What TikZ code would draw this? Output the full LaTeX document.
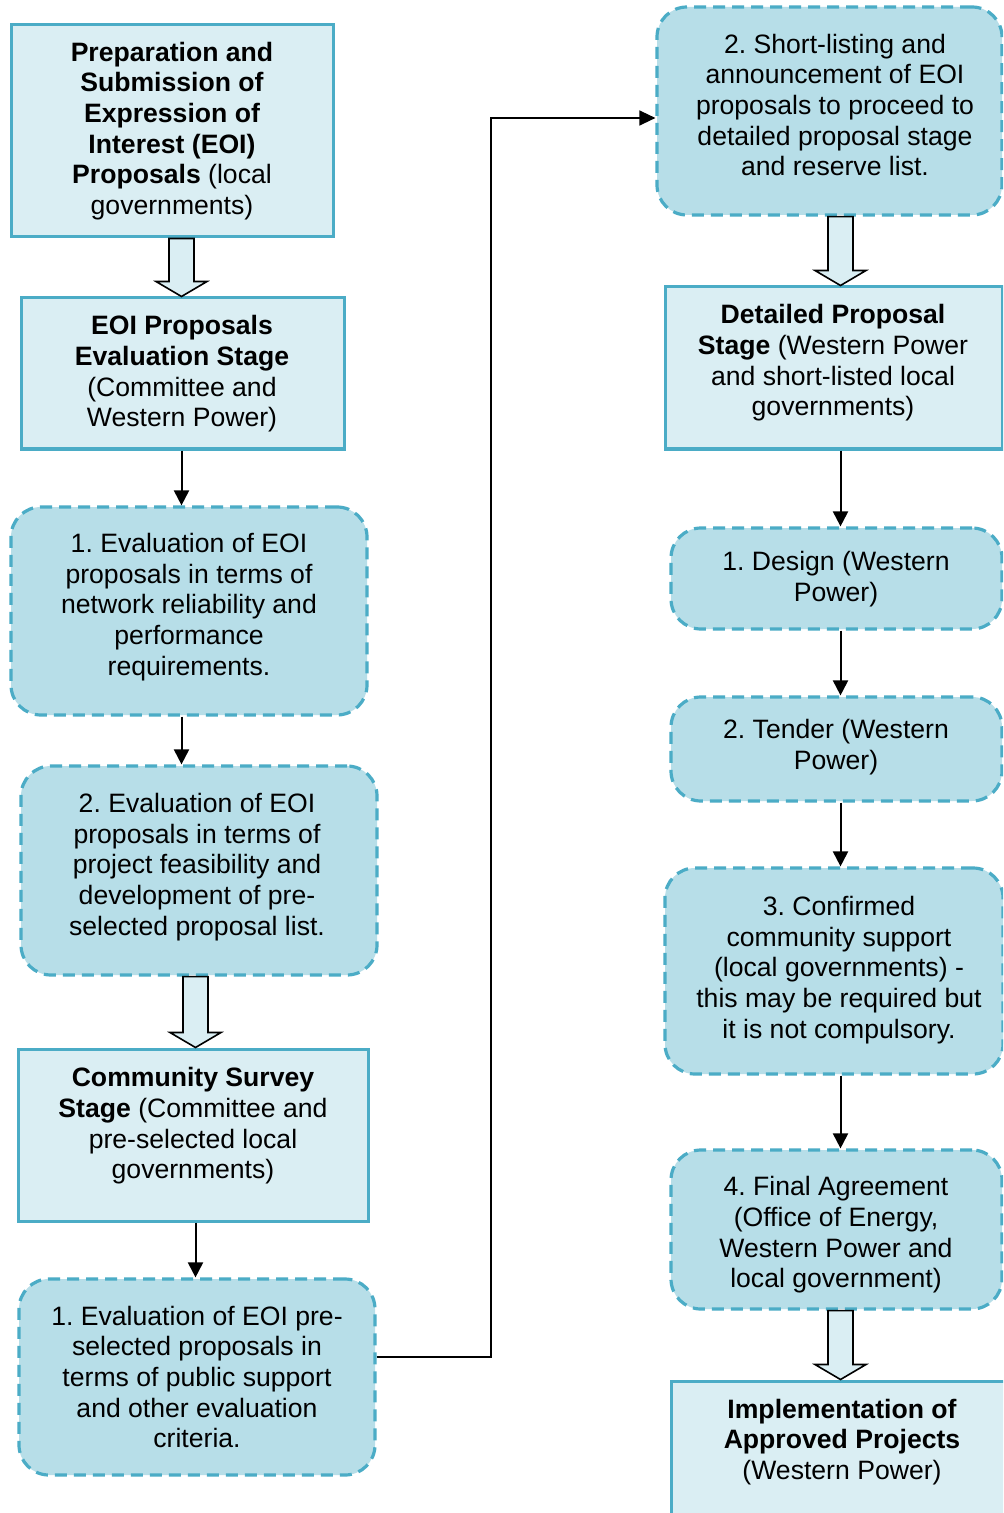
\documentclass[tikz,border=0pt]{standalone}
\usepackage{fontspec}
\setmainfont{Liberation Sans}
\usetikzlibrary{arrows.meta, calc}
\definecolor{boxborder}{RGB}{75,172,198}
\definecolor{stagefill}{RGB}{218,238,243}
\definecolor{stepfill}{RGB}{183,222,232}
\frenchspacing

% block arrow between two boxes, along the x of a column coordinate
\newcommand{\hollowdown}[3]{%
  \draw[hollow] let \p1=(#1.south -| #3), \p2=(#2.north -| #3) in
    (\x1-6.25pt,\y1) -- (\x1-6.25pt,\y2+7.5pt) -- (\x1-12.75pt,\y2+7.5pt)
    -- (\x2,\y2) -- (\x1+12.75pt,\y2+7.5pt) -- (\x1+6.25pt,\y2+7.5pt)
    -- (\x1+6.25pt,\y1) -- cycle;}

\begin{document}
\begin{tikzpicture}[x=0.5pt, y=-0.5pt,
    wh/.style 2 args={minimum width=#1*0.5pt, minimum height=#2*0.5pt},
    stage/.style={draw=boxborder, line width=1.5pt, fill=stagefill, inner sep=0pt},
    stepbox/.style={draw=boxborder, line width=1.6pt, fill=stepfill, inner sep=0pt,
      rounded corners=15pt, dash pattern=on 6pt off 3.5pt},
    txt/.style={font=\fontsize{13.3}{15.3}\selectfont, align=center, inner sep=0pt, yshift=-1.5pt},
    flow/.style={line width=1pt, -{Triangle[length=7.5pt, width=7.5pt]}},
    jump/.style={line width=0.7pt, -{Triangle[length=8pt, width=7.5pt]}},
    hollow/.style={draw=black, line width=0.8pt, fill=stagefill, line join=miter}]

    \path[fill=white, use as bounding box] (0,0) rectangle (1003,1513);
    \clip (0,0) rectangle (1003,1513);

    % column lines for the connectors
    \coordinate (lcol) at (181.5,0);
    \coordinate (mcol) at (195.5,0);
    \coordinate (rcol) at (840.5,0);
    \coordinate (jog) at (491,0);

    % left column
    \node[stage, wh={322}{212}] (prep) at (172,131) {};
    \node[txt] (prep-t) at (172,128) {\textbf{Preparation and}\\\textbf{Submission of}\\\textbf{Expression of}\\\textbf{Interest (EOI)}\\\textbf{Proposals} (local\\governments)};

    \node[stage, wh={323}{151}] (evalstage) at (182.5,373.5) {};
    \node[txt] (evalstage-t) at (182,371) {\textbf{EOI Proposals}\\\textbf{Evaluation Stage}\\(Committee and\\Western Power)};

    \node[stepbox, wh={356}{208}] (evalone) at (189,611) {};
    \node[txt] (evalone-t) at (189,604) {1. Evaluation of EOI\\proposals in terms of\\network reliability and\\performance\\requirements.};

    \node[stepbox, wh={356}{209}] (evaltwo) at (199,870.5) {};
    \node[txt] (evaltwo-t) at (197,864) {2. Evaluation of EOI\\proposals in terms of\\project feasibility and\\development of pre-\\selected proposal list.};

    \node[stage, wh={350}{172}] (survey) at (193,1135) {};
    \node[txt] (survey-t) at (193,1123) {\textbf{Community Survey}\\\textbf{Stage} (Committee and\\pre-selected local\\governments)};

    \node[stepbox, wh={356}{196}] (surveyone) at (197,1377) {};
    \node[txt] (surveyone-t) at (197,1374) {1. Evaluation of EOI pre-\\selected proposals in\\terms of public support\\and other evaluation\\criteria.};

    % right column
    \node[stepbox, wh={345}{208}] (shortlist) at (829.5,111) {};
    \node[txt] (shortlist-t) at (835,102) {2. Short-listing and\\announcement of EOI\\proposals to proceed to\\detailed proposal stage\\and reserve list.};

    \node[stage, wh={337}{162}] (detailed) at (833.5,368) {};
    \node[txt] (detailed-t) at (833,360) {\textbf{Detailed Proposal}\\\textbf{Stage} (Western Power\\and short-listed local\\governments)};

    \node[stepbox, wh={331}{101}] (design) at (836.5,578.5) {};
    \node[txt] (design-t) at (836,576) {1. Design (Western\\Power)};

    \node[stepbox, wh={331}{104}] (tender) at (836.5,749) {};
    \node[txt] (tender-t) at (836,744) {2. Tender (Western\\Power)};

    \node[stepbox, wh={338}{206}] (confirm) at (834,971) {};
    \node[txt] (confirm-t) at (839,967) {3. Confirmed\\community support\\(local governments) -\\this may be required but\\it is not compulsory.};

    \node[stepbox, wh={331}{159}] (final) at (836.5,1229.5) {};
    \node[txt] (final-t) at (836,1232) {4. Final Agreement\\(Office of Energy,\\Western Power and\\local government)};

    \node[stage, wh={359}{179}] (implement) at (850.5,1470.5) {};
    \node[txt] (implement-t) at (842,1439) {\textbf{Implementation of}\\\textbf{Approved Projects}\\(Western Power)};

    % connectors
    \hollowdown{prep}{evalstage}{lcol}
    \draw[flow] (evalstage.south -| lcol) -- (evalone.north -| lcol);
    \draw[flow] (evalone.south -| lcol) -- (evaltwo.north -| lcol);
    \hollowdown{evaltwo}{survey}{mcol}
    \draw[flow] (survey.south -| mcol) -- (surveyone.north -| mcol);

    \coordinate (exit) at ([yshift=10pt]surveyone.east);
    \coordinate (entry) at ([yshift=-3.5pt]shortlist.west);
    \draw[jump] (exit) -| (jog |- entry) -- (entry);

    \hollowdown{shortlist}{detailed}{rcol}
    \draw[flow] (detailed.south -| rcol) -- (design.north -| rcol);
    \draw[flow] (design.south -| rcol) -- (tender.north -| rcol);
    \draw[flow] (tender.south -| rcol) -- (confirm.north -| rcol);
    \draw[flow] (confirm.south -| rcol) -- (final.north -| rcol);
    \hollowdown{final}{implement}{rcol}
\end{tikzpicture}
\end{document}
